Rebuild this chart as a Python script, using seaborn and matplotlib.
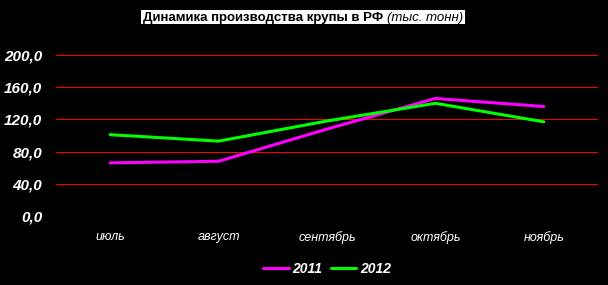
import matplotlib
matplotlib.use("Agg")
import matplotlib.pyplot as plt
import seaborn as sns
import pandas as pd
from matplotlib.patches import Rectangle
from matplotlib.ticker import FuncFormatter

months = ["июль", "август", "сентябрь", "октябрь", "ноябрь"]
years = ["2011", "2012"]
values_2011 = [66, 68, 108, 146, 136]
values_2012 = [101, 93, 118, 140, 117]
yticks = [0, 40, 80, 120, 160, 200]
title_main = "Динамика производства крупы в РФ"
title_unit = "(тыс. тонн)"

df = pd.DataFrame({
    "month": months * 2,
    "idx": list(range(len(months))) * 2,
    "value": values_2011 + values_2012,
    "year": [years[0]] * len(months) + [years[1]] * len(months),
})

sns.set_theme(style="dark")
plt.rcParams["font.family"] = ["Liberation Sans", "DejaVu Sans"]

W, H = 608, 285
fig = plt.figure(figsize=(W / 100, H / 100), dpi=100, facecolor="black")
ax = fig.add_axes([56 / W, 1 - 216 / H, (598 - 56) / W, (216 - 55) / H])
ax.set_facecolor("black")

sns.lineplot(data=df, x="idx", y="value", hue="year", hue_order=years,
             palette={"2011": "#ff00ff", "2012": "#00ff00"},
             linewidth=2.2, sort=False, ax=ax, legend=True)

ax.set_xlim(-0.5, len(months) - 0.5)
ax.set_ylim(0, 200)
ax.set_xticks(range(len(months)))
ax.set_xticklabels(months, fontstyle="italic", fontsize=9, color="white")
ax.set_yticks(yticks)
ax.yaxis.set_major_formatter(FuncFormatter(lambda v, p: f"{v:.1f}".replace(".", ",")))
for lab in ax.get_yticklabels():
    lab.set_fontweight("bold")
    lab.set_fontstyle("italic")
    lab.set_fontsize(11)
    lab.set_color("white")
ax.tick_params(axis="y", length=0, pad=10)
ax.tick_params(axis="x", length=0, pad=11)
ax.set_xlabel("")
ax.set_ylabel("")
for s in ax.spines.values():
    s.set_visible(False)

ax.yaxis.grid(True, color="#ff0000", linewidth=0.72)
ax.xaxis.grid(False)
gl = ax.get_ygridlines()
for g in gl:
    g.set_alpha(1.0)
    g.set_color("#ff0000")
    g.set_linewidth(0.72)
    g.set_antialiased(False)
gl[0].set_visible(False)

handles, labels = ax.get_legend_handles_labels()
ax.get_legend().remove()
leg = fig.legend(handles, labels, loc="center", bbox_to_anchor=(327 / W, 1 - 269 / H),
                 ncol=2, frameon=False, handlelength=1.85, handletextpad=0.25,
                 columnspacing=0.6,
                 prop={"weight": "bold", "style": "italic", "size": 10})
for t in leg.get_texts():
    t.set_color("white")
for h in leg.legend_handles:
    h.set_linewidth(2.2)

# Title with mixed styles on a white box
fig.canvas.draw()
r = fig.canvas.get_renderer()
base_y = 1 - 21 / H
t1 = fig.text(0, base_y, title_main, fontweight="bold", fontsize=9.5, color="black",
              ha="left", va="baseline", zorder=5)
t2 = fig.text(0, base_y, title_unit, fontstyle="italic", fontsize=9.5, color="black",
              ha="left", va="baseline", zorder=5)
w1 = t1.get_window_extent(r).width
w2 = t2.get_window_extent(r).width
gap = 4
total = w1 + gap + w2
x0 = 303 - total / 2
t1.set_x(x0 / W)
t2.set_x((x0 + w1 + gap) / W)
fig.patches.append(Rectangle(((x0 - 2) / W, 1 - 24 / H), (total + 4) / W, 14 / H,
                             transform=fig.transFigure, facecolor="white",
                             edgecolor="none", zorder=4))

fig.savefig("out.png", dpi=100, facecolor="black")
